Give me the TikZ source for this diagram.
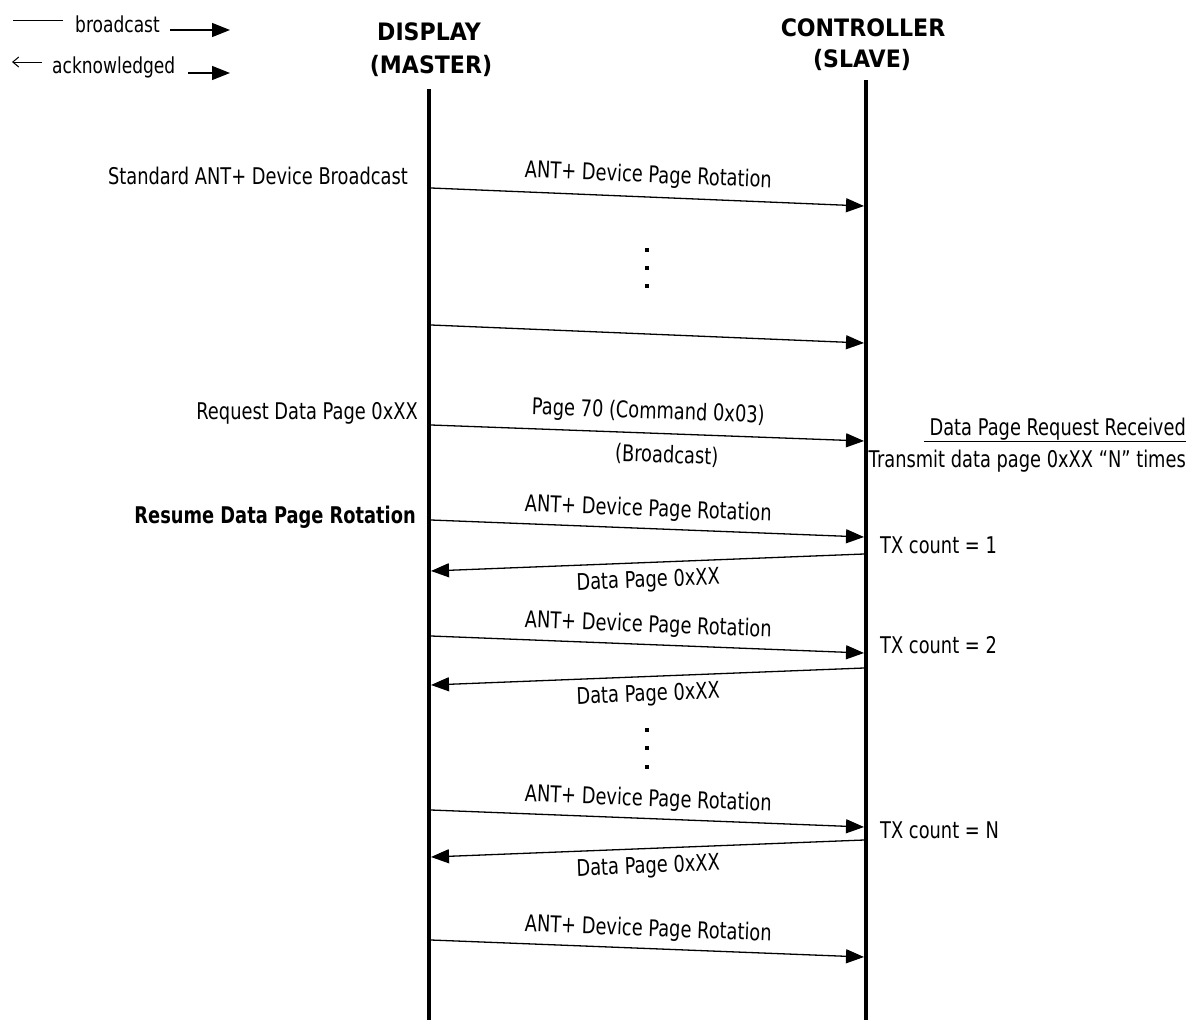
\documentclass[tikz,border=0pt]{standalone}
\usepackage{fontspec}
\setmainfont{DejaVu Sans}[FakeStretch=0.775]
\newfontfamily\hdrfont{DejaVu Sans}[FakeStretch=0.92]
\usetikzlibrary{arrows.meta}
\begin{document}
\begin{tikzpicture}[x=1pt,y=-1pt,
  txt/.style={font=\fontsize{23}{26}\selectfont, inner sep=0pt},
  leg/.style={font=\fontsize{22}{25}\selectfont, inner sep=0pt},
  hdr/.style={font=\hdrfont\fontsize{24}{27}\selectfont\bfseries, inner sep=0pt, align=center},
  life/.style={line width=4pt},
  msg/.style={line width=1.3pt, -{Triangle[length=18pt,width=14pt]}},
  lbl/.style={txt, sloped, midway},
  dot/.style={fill=black, minimum size=4pt, inner sep=0pt}
]
\useasboundingbox (0,0) rectangle (1196,1020);
% headers
\node[hdr] (dh) at (429,32) {DISPLAY};
\node[hdr] (dm) at (431,66) {(MASTER)};
\node[hdr] (ch) at (863,28) {CONTROLLER};
\node[hdr] (cs) at (862,60) {(SLAVE)};
% lifelines
\coordinate (mtop) at (429,89);
\coordinate (mbot) at (429,1020);
\coordinate (stop) at (866,80);
\coordinate (sbot) at (866,1020);
\draw[life] (mtop) -- (mbot);
\draw[life] (stop) -- (sbot);
% legend
\coordinate (lb1) at (13,20); \coordinate (lb2) at (63,20);
\draw[line width=1pt] (lb1) -- (lb2);
\node[leg, anchor=west] (lbt) at (75,24) {broadcast};
\coordinate (la1) at (170,30); \coordinate (la2) at (230,30);
\draw[msg] (la1) -- (la2);
\coordinate (lc1) at (42,62); \coordinate (lc2) at (12,62);
\draw[line width=1pt, -{Straight Barb[length=6pt,width=10pt]}] (lc1) -- (lc2);
\node[leg, anchor=west] (lct) at (52,67) {acknowledged};
\coordinate (ld1) at (188,73); \coordinate (ld2) at (230,73);
\draw[msg] (ld1) -- (ld2);
% left notes
\node[txt, anchor=east] (n1) at (408,176) {Standard ANT+ Device Broadcast};
\node[txt, anchor=east] (n2) at (418,413) {Request Data Page 0xXX};
\node[txt, anchor=east, font=\fontsize{23}{26}\selectfont\bfseries] (n3) at (416,517) {Resume Data Page Rotation};
% right notes
\node[txt, anchor=east] (r1) at (1186,430) {\underline{\ Data Page Request Received}};
\node[txt, anchor=east] (r2) at (1186,461) {Transmit data page 0xXX “N” times};
\node[txt, anchor=west] (t1) at (880,545) {TX count = 1};
\node[txt, anchor=west] (t2) at (880,645) {TX count = 2};
\node[txt, anchor=west] (tn) at (880,830) {TX count = N};
% messages
\coordinate (a1) at (431,188); \coordinate (b1) at (864,206);
\draw[msg] (a1) -- node[lbl, above=9pt] {ANT+ Device Page Rotation} (b1);
\coordinate (a2) at (431,325); \coordinate (b2) at (864,343);
\draw[msg] (a2) -- (b2);
\node[dot] (d1) at (647,250) {}; \node[dot] (d2) at (647,268) {}; \node[dot] (d3) at (647,286) {};
\coordinate (a3) at (431,425); \coordinate (b3) at (864,441);
\draw[msg] (a3) -- node[lbl, above=9pt] {Page 70 (Command 0x03)} node[lbl, below=11pt, xshift=20pt] {(Broadcast)} (b3);
\coordinate (a4) at (431,520); \coordinate (b4) at (864,537);
\draw[msg] (a4) -- node[lbl, above=7pt] {ANT+ Device Page Rotation} (b4);
\coordinate (b5) at (864,554); \coordinate (a5) at (431,571);
\draw[msg] (b5) -- node[lbl, below=7pt] {Data Page 0xXX} (a5);
\coordinate (a6) at (431,636); \coordinate (b6) at (864,653);
\draw[msg] (a6) -- node[lbl, above=7pt] {ANT+ Device Page Rotation} (b6);
\coordinate (b7) at (864,668); \coordinate (a7) at (431,685);
\draw[msg] (b7) -- node[lbl, below=7pt] {Data Page 0xXX} (a7);
\node[dot] (d4) at (647,730) {}; \node[dot] (d5) at (647,748) {}; \node[dot] (d6) at (647,767) {};
\coordinate (a8) at (431,810); \coordinate (b8) at (864,827);
\draw[msg] (a8) -- node[lbl, above=7pt] {ANT+ Device Page Rotation} (b8);
\coordinate (b9) at (864,840); \coordinate (a9) at (431,857);
\draw[msg] (b9) -- node[lbl, below=7pt] {Data Page 0xXX} (a9);
\coordinate (a10) at (431,940); \coordinate (b10) at (864,957);
\draw[msg] (a10) -- node[lbl, above=7pt] {ANT+ Device Page Rotation} (b10);
\end{tikzpicture}
\end{document}
